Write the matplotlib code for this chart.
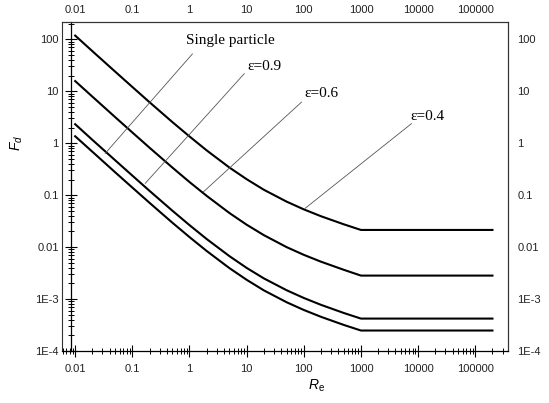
import matplotlib
matplotlib.use("Agg")
from matplotlib import pyplot as plt
from matplotlib.ticker import FixedLocator, NullLocator, LogLocator

plt.rcParams['font.family'] = ['Liberation Sans', 'DejaVu Sans']
plt.rcParams['mathtext.fontset'] = 'custom'
plt.rcParams['mathtext.it'] = 'Liberation Sans:italic'
plt.rcParams['mathtext.rm'] = 'Liberation Sans'

# Data
re_pts = [0.01, 0.02, 0.05, 0.1, 0.2, 0.5, 1, 2, 5, 10, 20, 50, 100, 200, 500, 1000, 200000]
fd_eps04 = [118, 59.1, 23.9, 12.1, 6.15, 2.56, 1.35, 0.727, 0.340, 0.203, 0.127, 0.0751,
            0.0533, 0.0393, 0.0275, 0.0214, 0.0214]
fd_eps06 = [15.7, 7.88, 3.18, 1.61, 0.819, 0.341, 0.179, 0.0969, 0.0453, 0.0270, 0.0170, 0.0100,
            0.0071, 0.00524, 0.00366, 0.00283, 0.00283]
fd_eps09 = [2.32, 1.16, 0.470, 0.238, 0.121, 0.0504, 0.0265, 0.0143, 0.0067, 0.00398, 0.00250,
            0.00148, 0.00105, 0.000774, 0.000540, 0.000421, 0.000421]
fd_single = [1.36, 0.685, 0.276, 0.140, 0.0712, 0.0296, 0.0156, 0.00842, 0.00394, 0.00235, 0.00147,
             0.000869, 0.000617, 0.000455, 0.000318, 0.000248, 0.000248]

x_ticks = [0.01, 0.1, 1, 10, 100, 1000, 10000, 100000]
x_tick_labels = ["0.01", "0.1", "1", "10", "100", "1000", "10000", "100000"]
y_ticks = [1e-4, 1e-3, 0.01, 0.1, 1, 10, 100]
y_tick_labels = ["1E-4", "1E-3", "0.01", "0.1", "1", "10", "100"]

# label text, text position (axes fraction), leader start and end (data)
annotations = [
    ("Single particle", (0.278, 0.943), (1.13, 52.6), (0.0334, 0.634)),
    ("\u03b5=0.9", (0.416, 0.864), (9.12, 21.9), (0.1675, 0.168)),
    ("\u03b5=0.6", (0.543, 0.783), (91.8, 6.22), (1.75, 0.1156)),
    ("\u03b5=0.4", (0.782, 0.712), (7690, 2.39), (105, 0.0555)),
]

x_lim = (10 ** -2.23, 10 ** 5.57)
y_lim = (1e-4, 10 ** 2.33)
y_axis_at = 0.0085
frame_col = "#333333"
text_col = "#222222"

fig = plt.figure(figsize=(5.49, 4.03), dpi=100)
ax = fig.add_axes([0.113, 0.129, 0.812, 0.816])

for series in (fd_single, fd_eps09, fd_eps06, fd_eps04):
    ax.plot(re_pts, series, color="black", lw=1.5, solid_joinstyle="round")

ax.set_xscale("log")
ax.set_yscale("log")
ax.set_xlim(*x_lim)
ax.set_ylim(*y_lim)

ax.xaxis.set_major_locator(FixedLocator(x_ticks))
ax.set_xticklabels(x_tick_labels)
ax.yaxis.set_major_locator(FixedLocator(y_ticks))
ax.set_yticklabels(y_tick_labels)
ax.xaxis.set_minor_locator(LogLocator(base=10, subs=range(2, 10), numticks=20))
ax.yaxis.set_minor_locator(LogLocator(base=10, subs=range(2, 10), numticks=20))

ax.spines['left'].set_position(('data', y_axis_at))
ax.spines['left'].set_linewidth(0.9)
ax.spines['bottom'].set_linewidth(0.9)
for side in ('top', 'right'):
    ax.spines[side].set_color(frame_col)
    ax.spines[side].set_linewidth(0.8)
ax.axvline(x_lim[0], color=frame_col, lw=0.8, clip_on=False)

ax.tick_params(which='major', direction='inout', length=8, width=0.8, pad=5,
               labelsize=8, labelcolor=text_col)
ax.tick_params(which='minor', direction='inout', length=5, width=0.7)

# tick labels repeated on top and right without ticks
top = ax.secondary_xaxis('top')
top.set_xticks(x_ticks, x_tick_labels)
top.xaxis.set_minor_locator(NullLocator())
top.tick_params(which='both', length=0, pad=5, labelsize=8, labelcolor=text_col)
top.spines['top'].set_color(frame_col)
top.spines['top'].set_linewidth(0.8)

right = ax.secondary_yaxis('right')
right.set_yticks(y_ticks, y_tick_labels)
right.yaxis.set_minor_locator(NullLocator())
right.tick_params(which='both', length=0, pad=7, labelsize=8, labelcolor=text_col)
right.spines['right'].set_color(frame_col)
right.spines['right'].set_linewidth(0.8)

ax.set_xlabel("$R_\\mathrm{e}$", fontsize=10)
ax.xaxis.set_label_coords(0.57, -0.08)
ax.set_ylabel("$F_d$", fontsize=10)
ax.yaxis.set_label_coords(-0.082, 0.632)

for label, text_pos, start, end in annotations:
    ax.annotate("", xy=end, xytext=start,
                arrowprops=dict(arrowstyle='-', color="#555555", lw=0.6,
                                shrinkA=0, shrinkB=0))
    ax.text(text_pos[0], text_pos[1], label, transform=ax.transAxes,
            ha='left', va='center', fontsize=11, family='Liberation Serif')

fig.savefig("out.png", dpi=100)
